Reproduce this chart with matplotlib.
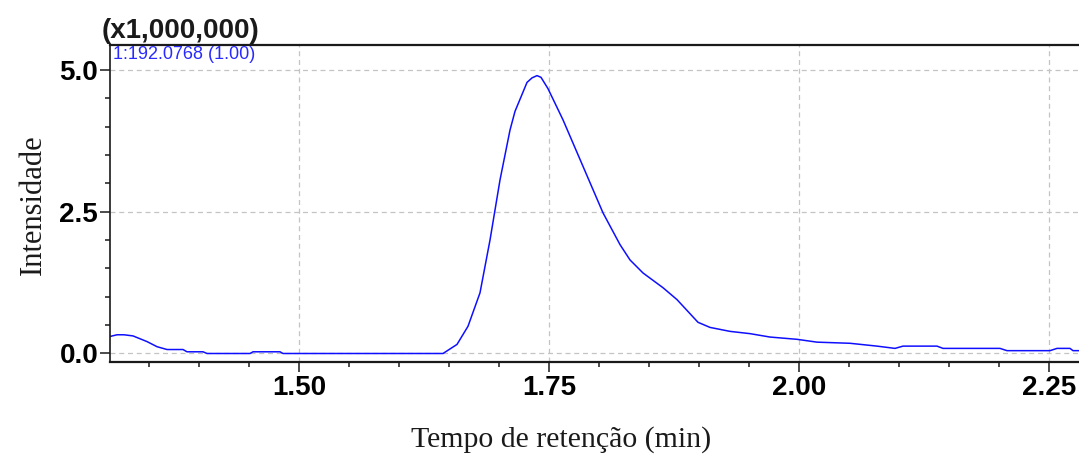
import matplotlib.pyplot as plt
from matplotlib.ticker import MultipleLocator, FormatStrFormatter

# chromatogram of the 192.0768 ion (intensity in millions)
tempo = [1.311, 1.318, 1.325, 1.334, 1.348, 1.358, 1.368, 1.384, 1.388, 1.404,
         1.408, 1.451, 1.454, 1.481, 1.484, 1.644, 1.658, 1.669, 1.681, 1.691,
         1.701, 1.711, 1.716, 1.728, 1.733, 1.738, 1.742, 1.749, 1.764, 1.784,
         1.804, 1.821, 1.831, 1.844, 1.864, 1.878, 1.899, 1.911, 1.931, 1.951,
         1.971, 1.998, 2.018, 2.051, 2.078, 2.096, 2.104, 2.138, 2.144, 2.201,
         2.208, 2.251, 2.258, 2.271, 2.274, 2.285]
intensidade = [0.30, 0.33, 0.33, 0.31, 0.21, 0.12, 0.07, 0.07, 0.03, 0.03,
               0.00, 0.00, 0.03, 0.03, 0.00, 0.00, 0.16, 0.48, 1.07, 2.00,
               3.06, 3.94, 4.27, 4.78, 4.86, 4.90, 4.87, 4.67, 4.12, 3.30,
               2.48, 1.92, 1.65, 1.42, 1.16, 0.95, 0.55, 0.46, 0.39, 0.35,
               0.29, 0.25, 0.20, 0.18, 0.13, 0.09, 0.13, 0.13, 0.09, 0.09,
               0.05, 0.05, 0.09, 0.09, 0.05, 0.05]
x_ticks = [1.50, 1.75, 2.00, 2.25]
y_ticks = [0.0, 2.5, 5.0]
ion_label = "1:192.0768 (1.00)"

fig = plt.figure(figsize=(10.79, 4.57), dpi=100)
ax = fig.add_axes([110 / 1079, 95 / 457, 969 / 1079, 317 / 457])

ax.plot(tempo, intensidade, color="#0f0fff", linewidth=1.1)

ax.set_xlim(1.311, 2.280)
ax.set_ylim(-0.15, 5.44)
ax.set_xticks(x_ticks)
ax.set_yticks(y_ticks)
ax.xaxis.set_minor_locator(MultipleLocator(0.05))
ax.yaxis.set_minor_locator(MultipleLocator(0.5))
ax.xaxis.set_major_formatter(FormatStrFormatter("%.2f"))
ax.yaxis.set_major_formatter(FormatStrFormatter("%.1f"))

ax.grid(True, which="major", linestyle=(0, (4, 3)), color="#c4c4c4", linewidth=0.9)
ax.set_axisbelow(True)

for lab in ax.get_xticklabels() + ax.get_yticklabels():
    lab.set_fontfamily("Liberation Sans")
    lab.set_fontweight("bold")
    lab.set_fontsize(20)
ax.tick_params(axis="both", which="major", length=7, width=1.1, color="#1a1a1a", direction="out")
ax.tick_params(axis="both", which="minor", length=3.5, width=1.1, color="#1a1a1a", direction="out")
ax.tick_params(axis="x", pad=2.5)
ax.tick_params(axis="y", pad=1.5)

ax.spines["right"].set_visible(False)
ax.spines["top"].set_linewidth(1.6)
ax.spines["bottom"].set_linewidth(1.6)
ax.spines["left"].set_linewidth(1.2)
for s in ["top", "bottom", "left"]:
    ax.spines[s].set_color("#1a1a1a")

ax.text(0.003, 0.997, ion_label, transform=ax.transAxes, ha="left", va="top",
        color="#2a2aff", fontsize=13, family="Liberation Sans")
fig.text(102 / 1079, 1 - 38 / 457, "(x1,000,000)", ha="left", va="baseline",
         fontsize=20, fontweight="bold", family="Liberation Sans", color="#1a1a1a")

fig.text(561 / 1079, 1 - 440 / 457, "Tempo de retenção (min)", ha="center", va="center",
         fontsize=21.5, family="Liberation Serif", color="#1a1a1a")
fig.text(33 / 1079, 1 - 205 / 457, "Intensidade", ha="center", va="center",
         rotation=90, fontsize=22, family="Liberation Serif", color="#1a1a1a")

fig.savefig("out.png", dpi=100)
